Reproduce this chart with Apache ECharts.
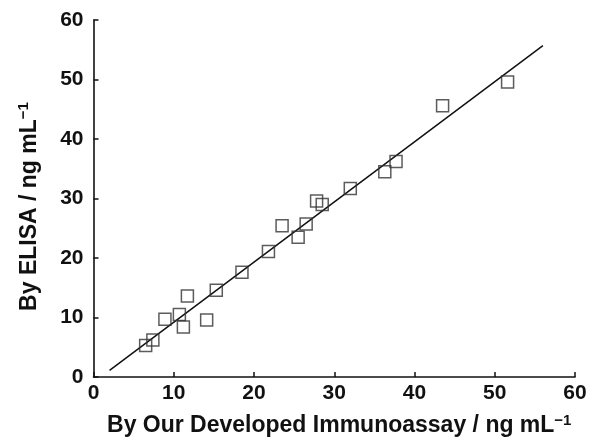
<!DOCTYPE html>
<html>
<head>
<meta charset="utf-8">
<script src="https://cdn.jsdelivr.net/npm/echarts@6/dist/echarts.min.js"></script>
<style>html,body{margin:0;padding:0;background:#fff}#c{width:590px;height:440px}</style>
</head>
<body>
<div id="c"></div>
<script>
const immunoX = [6.5, 7.4, 8.9, 10.7, 11.2, 11.7, 14.1, 15.3, 18.5, 21.8, 23.5, 25.5, 26.5, 27.8, 28.5, 32.0, 36.3, 37.7, 43.5, 51.6];
const elisaY  = [5.3, 6.2, 9.7, 10.5, 8.4, 13.6, 9.6, 14.6, 17.6, 21.1, 25.4, 23.5, 25.7, 29.6, 29.0, 31.7, 34.5, 36.2, 45.6, 49.6];
const fitX = [2, 56];
const fitY = [1.1, 55.7];
const xTicks = [0, 10, 20, 30, 40, 50, 60];
const yTicks = [0, 10, 20, 30, 40, 50, 60];

const FONT = 'Liberation Sans, Arial, sans-serif';
const chart = echarts.init(document.getElementById('c'), null, {renderer: 'canvas'});
const nameRich = {
  b: {fontFamily: FONT, fontWeight: 'bold', fontSize: 23, color: '#111', lineHeight: 26},
  sup: {fontFamily: FONT, fontWeight: 'bold', fontSize: 15, color: '#111', verticalAlign: 'top', lineHeight: 15, padding: [0,0,12,0]}
};
const axisCommon = (ticks) => ({
  type: 'value', min: ticks[0], max: ticks[ticks.length - 1], interval: 10,
  axisLine: {show: true, onZero: false, lineStyle: {color: '#111', width: 1.6}},
  axisTick: {show: true, inside: true, length: 5, lineStyle: {color: '#111', width: 1.5}},
  splitLine: {show: false}
});
chart.setOption({
  animation: false,
  grid: {left: 93.5, right: 15, top: 20, bottom: 63, containLabel: false, outerBoundsMode: 'none'},
  xAxis: Object.assign(axisCommon(xTicks), {
    name: '{b|By Our Developed Immunoassay / ng mL}{sup|−1}',
    nameLocation: 'middle', nameGap: 36,
    nameTextStyle: {rich: nameRich, padding: [0, 0, 0, 10]},
    axisLabel: {fontFamily: FONT, fontWeight: 'bold', fontSize: 21, color: '#111', margin: 6}
  }),
  yAxis: Object.assign(axisCommon(yTicks), {
    name: '{b|By ELISA / ng mL}{sup|−1}',
    nameLocation: 'middle', nameGap: 51,
    nameTextStyle: {rich: nameRich, padding: [0, 16, 0, 0]},
    axisLabel: {fontFamily: FONT, fontWeight: 'bold', fontSize: 21, color: '#111', margin: 10}
  }),
  series: [
    {
      type: 'line', data: fitX.map((x, i) => [x, fitY[i]]), symbol: 'none',
      lineStyle: {color: '#111', width: 1.5}, z: 2
    },
    {
      type: 'scatter', data: immunoX.map((x, i) => [x, elisaY[i]]),
      symbol: 'rect', symbolSize: 12,
      itemStyle: {color: 'rgba(255,255,255,0)', borderColor: '#333', borderWidth: 1.5}, z: 3
    }
  ]
});
</script>
</body>
</html>
